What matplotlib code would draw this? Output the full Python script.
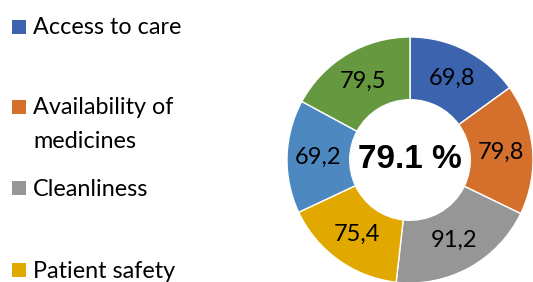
import matplotlib
matplotlib.use("Agg")
from matplotlib import pyplot as plt
import numpy as np

# donut values, clockwise from 12 o'clock
values = [69.8, 79.8, 91.2, 75.4, 69.2, 79.5]
colors = ["#3C64AE", "#D4702C", "#969696", "#E1A900", "#4E88C0", "#66993F"]
center_label = "79.1 %"

# legend entries visible in the picture (the rest is cut off at the bottom)
legend_labels = ["Access to care", "Availability of\nmedicines", "Cleanliness", "Patient safety"]
legend_y = [27, 107, 188, 270]   # pixel rows of each entry's marker

W, H = 533, 282
fig = plt.figure(figsize=(W / 100, H / 100), dpi=100)

# donut axes: centre (410, 160) px, radius 123 px
r_px = 123
cx, cy = 410, 160
ax = fig.add_axes([(cx - r_px) / W, (H - cy - r_px) / H, 2 * r_px / W, 2 * r_px / H])
wedges, _ = ax.pie(values, colors=colors, startangle=90, counterclock=False,
                   radius=1, wedgeprops=dict(width=0.51, edgecolor="white", linewidth=1))
ax.set_xlim(-1, 1)
ax.set_ylim(-1, 1)
ax.axis("off")

for w, v in zip(wedges, values):
    ang = np.deg2rad((w.theta1 + w.theta2) / 2)
    ax.text(0.745 * np.cos(ang), 0.745 * np.sin(ang), f"{v:.1f}".replace(".", ","),
            ha="center", va="center", fontsize=17, family="Lato", color="black")

ax.text(0, 0, center_label, ha="center", va="center", fontsize=24,
        fontweight="bold", family="Liberation Sans")

# legend drawn in pixel coordinates
lax = fig.add_axes([0, 0, 1, 1])
lax.set_xlim(0, W)
lax.set_ylim(H, 0)
lax.axis("off")
for i, (lab, y) in enumerate(zip(legend_labels, legend_y)):
    lax.scatter([19], [y], marker="s", s=13 ** 2 * 0.52, color=colors[i], linewidths=0)
    for j, line in enumerate(lab.split("\n")):
        lax.text(33, y + 1 + j * 33, line, ha="left", va="center",
                 fontsize=16.8, family="Lato", color="black")

fig.savefig("out.png", dpi=100)
